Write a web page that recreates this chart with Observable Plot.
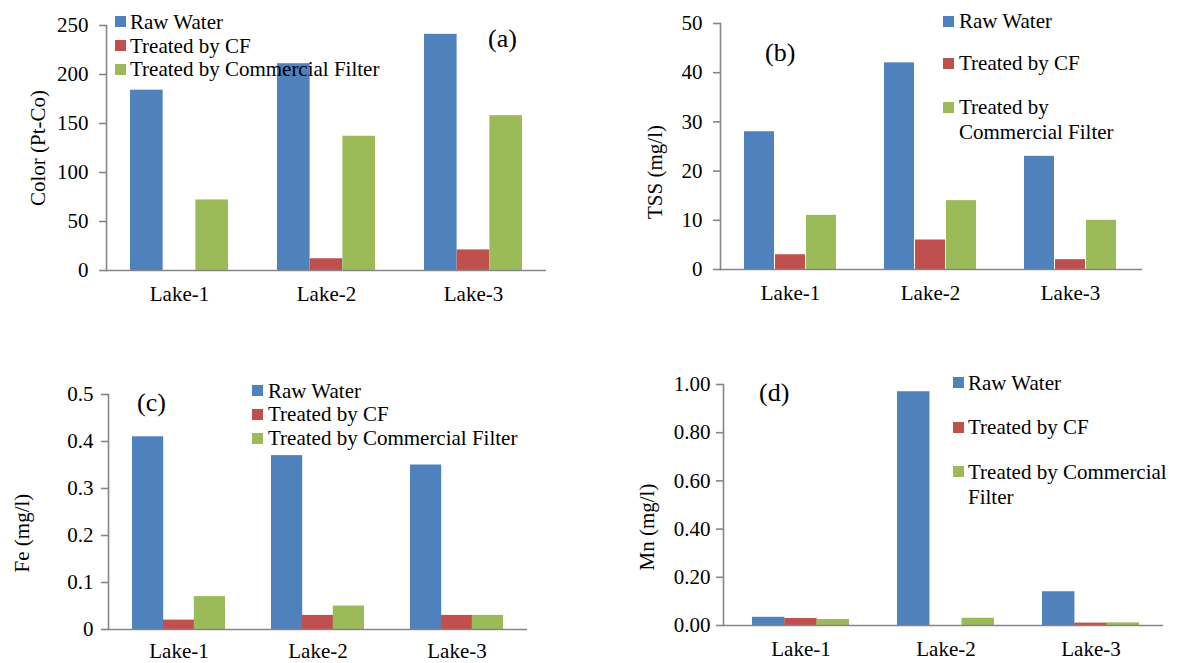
<!DOCTYPE html>
<html>
<head>
<meta charset="utf-8">
<script src="https://cdn.jsdelivr.net/npm/d3@7"></script>
<script src="https://cdn.jsdelivr.net/npm/@observablehq/plot@0.6"></script>
<style>
  body { margin: 0; background: #fff; }
  #root { position: relative; width: 1178px; height: 663px; overflow: hidden; background: #fff;
          font-family: "Liberation Serif", "Times New Roman", serif; color: #000; }
  .leg { position: absolute; display: flex; align-items: center; font-size: 21px; line-height: 24px; white-space: nowrap; }
  .sw { width: 11px; height: 11px; flex: none; }
  .ytitle { position: absolute; font-size: 21px; line-height: 24px; white-space: nowrap; transform: translate(-50%, -50%) rotate(-90deg); }
  .plabel { position: absolute; font-size: 26px; line-height: 26px; white-space: nowrap; transform: translateY(-50%); }
</style>
</head>
<body>
<div id="root"></div>
<script>
// ---------- data ----------
const lakes = ["Lake-1", "Lake-2", "Lake-3"];
const seriesNames = ["Raw Water", "Treated by CF", "Treated by Commercial Filter"];
const seriesColors = ["#4F81BD", "#C0504D", "#9BBB59"];

const colorRaw = [184, 211, 241];
const colorCF  = [0, 12, 21];
const colorCom = [72, 137, 158];

const tssRaw = [28, 42, 23];
const tssCF  = [3, 6, 2];
const tssCom = [11, 14, 10];

const feRaw = [0.41, 0.37, 0.35];
const feCF  = [0.02, 0.03, 0.03];
const feCom = [0.07, 0.05, 0.03];

const mnRaw = [0.034, 0.97, 0.14];
const mnCF  = [0.029, 0, 0.01];
const mnCom = [0.025, 0.03, 0.011];

const colorTicks = [0, 50, 100, 150, 200, 250];
const colorTickLabels = ["0", "50", "100", "150", "200", "250"];
const tssTicks = [0, 10, 20, 30, 40, 50];
const tssTickLabels = ["0", "10", "20", "30", "40", "50"];
const feTicks = [0, 0.1, 0.2, 0.3, 0.4, 0.5];
const feTickLabels = ["0", "0.1", "0.2", "0.3", "0.4", "0.5"];
const mnTicks = [0, 0.2, 0.4, 0.6, 0.8, 1.0];
const mnTickLabels = ["0.00", "0.20", "0.40", "0.60", "0.80", "1.00"];

// ---------- layout ----------
const axisColor = "#868686";
const root = document.getElementById("root");

const panels = [
  { tag: "(a)", title: "Color (Pt-Co)", series: [colorRaw, colorCF, colorCom], ticks: colorTicks, tickLabels: colorTickLabels,
    domain: [0, 250], left: 0, top: 0, width: 580, height: 330, mL: 106, mR: 34, mT: 25, mB: 60,
    pi: 0.333, po: 0.163, align: 0.5, tickPad: 11, xPad: 16,
    titleX: 37.5, titleY: 148, tagX: 488, tagY: 39,
    legend: { sx: 115, tx: 130, rows: [[0, "Raw Water", 21.7], [1, "Treated by CF", 45.7], [2, "Treated by Commercial Filter", 69.3]] } },
  { tag: "(b)", title: "TSS (mg/l)", series: [tssRaw, tssCF, tssCom], ticks: tssTicks, tickLabels: tssTickLabels,
    domain: [0, 50], left: 590, top: 0, width: 588, height: 330, mL: 130, mR: 36, mT: 23, mB: 61,
    pi: 0.34, po: 0.167, align: 0.49, tickPad: 11, xPad: 16,
    titleX: 655, titleY: 172, tagX: 765, tagY: 53,
    legend: { sx: 943, tx: 959, rows: [[0, "Raw Water", 21], [1, "Treated by CF", 63], [2, "Treated by", 107], [-1, "Commercial Filter", 132]] } },
  { tag: "(c)", title: "Fe (mg/l)", series: [feRaw, feCF, feCom], ticks: feTicks, tickLabels: feTickLabels,
    domain: [0, 0.5], left: 0, top: 340, width: 580, height: 323, mL: 108, mR: 53, mT: 54, mB: 34,
    pi: 0.334, po: 0.172, align: 0.5, tickPad: 8, xPad: 14,
    titleX: 21.5, titleY: 533, tagX: 137, tagY: 403,
    legend: { sx: 252, tx: 268, rows: [[0, "Raw Water", 390.7], [1, "Treated by CF", 414], [2, "Treated by Commercial Filter", 438.3]] } },
  { tag: "(d)", title: "Mn (mg/l)", series: [mnRaw, mnCF, mnCom], ticks: mnTicks, tickLabels: mnTickLabels,
    domain: [0, 1], left: 590, top: 340, width: 588, height: 323, mL: 133, mR: 15, mT: 44, mB: 38,
    pi: 0.333, po: 0.182, align: 0.547, tickPad: 6, xPad: 16,
    titleX: 647, titleY: 527, tagX: 759, tagY: 393,
    legend: { sx: 953, tx: 968, rows: [[0, "Raw Water", 382.7], [1, "Treated by CF", 427.3], [2, "Treated by Commercial", 471.7], [-1, "Filter", 496.7]] } }
];

for (const p of panels) {
  const plotW = p.width - p.mL - p.mR;
  const step = plotW / (lakes.length - p.pi + 2 * p.po);
  const bw = step * (1 - p.pi);
  const third = bw / 3;

  const barMarks = p.series.map((vals, si) => {
    const rows = lakes.map((lake, i) => ({ lake, value: vals[i], series: seriesNames[si] }));
    return Plot.barY(rows, {
      x: "lake", y: "value", fill: seriesColors[si],
      insetLeft: si * third, insetRight: (2 - si) * third
    });
  });

  const chart = Plot.plot({
    width: p.width, height: p.height,
    marginLeft: p.mL, marginRight: p.mR, marginTop: p.mT, marginBottom: p.mB,
    style: { fontFamily: "Liberation Serif, Times New Roman, serif", fontSize: "21px", color: "#000", background: "transparent", overflow: "visible" },
    x: { domain: lakes, paddingInner: p.pi, paddingOuter: p.po, align: p.align, label: null },
    y: { domain: p.domain, label: null },
    marks: [
      ...barMarks,
      Plot.ruleY([0], { stroke: axisColor, strokeWidth: 1.6 }),
      Plot.frame({ anchor: "left", stroke: axisColor, strokeWidth: 1.6 }),
      Plot.axisY({ ticks: p.ticks, tickFormat: (d) => p.tickLabels[p.ticks.indexOf(d)], tickSize: 7, tickPadding: p.tickPad,
                   stroke: axisColor, strokeWidth: 1.6, fill: "#000", fontSize: 21, label: null }),
      Plot.axisX({ tickSize: 0, tickPadding: p.xPad, fill: "#000", fontSize: 21, label: null })
    ]
  });
  chart.style.position = "absolute";
  chart.style.left = p.left + "px";
  chart.style.top = p.top + "px";
  root.appendChild(chart);

  const t = document.createElement("div");
  t.className = "ytitle";
  t.style.left = p.titleX + "px";
  t.style.top = p.titleY + "px";
  t.textContent = p.title;
  root.appendChild(t);

  const g = document.createElement("div");
  g.className = "plabel";
  g.style.left = p.tagX + "px";
  g.style.top = p.tagY + "px";
  g.textContent = p.tag;
  root.appendChild(g);

  for (const [si, label, cy] of p.legend.rows) {
    const row = document.createElement("div");
    row.className = "leg";
    row.style.top = (cy - 12) + "px";
    if (si >= 0) {
      row.style.left = p.legend.sx + "px";
      const sw = document.createElement("span");
      sw.className = "sw";
      sw.style.background = seriesColors[si];
      sw.style.marginRight = (p.legend.tx - p.legend.sx - 11) + "px";
      row.appendChild(sw);
    } else {
      row.style.left = p.legend.tx + "px";
    }
    const tx = document.createElement("span");
    tx.textContent = label;
    row.appendChild(tx);
    root.appendChild(row);
  }
}
</script>
</body>
</html>
